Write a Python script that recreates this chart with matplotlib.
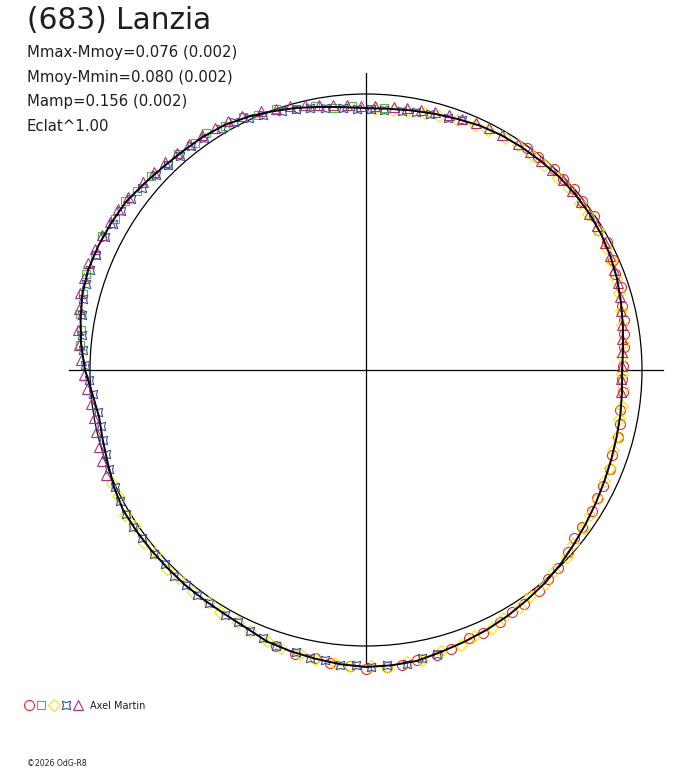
import numpy as np
import matplotlib
matplotlib.use("Agg")
import matplotlib.pyplot as plt

# courbe de lumiere en polaire: angle (deg) et flux relatif (rayon, 1 = moyenne)
fit_ang = list(range(0, 360, 5))
fit_r = [0.928, 0.935, 0.945, 0.956, 0.968, 0.977, 0.984, 0.988, 0.990, 0.990,
         0.987, 0.985, 0.982, 0.977, 0.968, 0.961, 0.955, 0.950, 0.949, 0.956,
         0.968, 0.983, 0.997, 1.012, 1.025, 1.031, 1.034, 1.040, 1.050, 1.062,
         1.066, 1.069, 1.070, 1.064, 1.050, 1.036, 1.018, 0.995, 0.982, 0.987,
         0.995, 1.007, 1.016, 1.016, 1.016, 1.016, 1.018, 1.019, 1.022, 1.030,
         1.047, 1.055, 1.062, 1.070, 1.076, 1.074, 1.070, 1.057, 1.047, 1.038,
         1.028, 1.017, 1.008, 0.996, 0.983, 0.972, 0.962, 0.953, 0.946, 0.940,
         0.936, 0.931]

red_ang = [54, 51, 47, 44, 41, 38, 34, 31, 28, 24, 21, 18, 14, 11, 8, 5, 1, -2, -5, -9,
           -12, -15, -19, -22, -26, -29, -32, -36, -39, -42, -46, -49, -52, -56, -59,
           -62, -66, -69, -73, -76, -80, -83, -86, -90, -93, -97, -100, -104, -108]
red_r = [0.995, 0.991, 0.997, 0.994, 0.998, 0.993, 0.995, 0.982, 0.988, 0.979, 0.966,
         0.970, 0.957, 0.951, 0.944, 0.938, 0.931, 0.927, 0.935, 0.932, 0.942, 0.944,
         0.943, 0.953, 0.956, 0.955, 0.964, 0.969, 0.970, 0.983, 0.999, 1.004, 1.017,
         1.022, 1.024, 1.036, 1.043, 1.042, 1.058, 1.063, 1.068, 1.077, 1.079, 1.082,
         1.075, 1.070, 1.059, 1.062, 1.053]

yel_ang = [88, 84, 81, 77, 74, 70, 66, 63, 59, 56, 52, 49, 45, 42, 38, 35, 31, 27, 24,
           20, 17, 13, 10, 6, 3, -1, -4, -8, -11, -15, -18, -22, -25, -29, -33, -36,
           -40, -43, -47, -50, -54, -57, -61, -64, -68, -71, -75, -79, -82, -86, -89,
           -93, -96, -100, -103, -107, -110, -114, -117, -121, -124, -128, -132, -135,
           -139, -142, -146, -149, -153, -156]
yel_r = [0.945, 0.946, 0.950, 0.955, 0.958, 0.963, 0.972, 0.976, 0.980, 0.982, 0.984,
         0.985, 0.986, 0.988, 0.985, 0.984, 0.982, 0.976, 0.972, 0.965, 0.957, 0.950,
         0.942, 0.935, 0.928, 0.926, 0.932, 0.937, 0.935, 0.943, 0.941, 0.952, 0.950,
         0.963, 0.966, 0.977, 0.981, 0.994, 0.998, 1.011, 1.013, 1.024, 1.027, 1.039,
         1.041, 1.052, 1.055, 1.071, 1.069, 1.078, 1.073, 1.075, 1.066, 1.065, 1.055,
         1.054, 1.044, 1.036, 1.025, 1.024, 1.016, 1.021, 1.014, 1.019, 1.013, 1.019,
         1.013, 1.018, 1.008, 1.009]

blu_ang = [69, 72, 76, 79, 82, 86, 89, 92, 95, 99, 102, 105, 108, 112, 115, 118, 121,
           125, 128, 131, 134, 137, 141, 144, 147, 150, 153, 157, 160, 163, 166, 169,
           173, 176, 179, 182, 185, 189, 192, 195, 198, 201, 205, 208, 211, 214, 217,
           221, 224, 227, 230, 233, 236, 240, 243, 246, 249, 252, 256, 259, 262, 265,
           268, 271, 274, 278, 281, 284]
blu_r = [0.970, 0.961, 0.955, 0.951, 0.949, 0.946, 0.944, 0.948, 0.952, 0.961, 0.970,
         0.978, 0.987, 0.998, 1.006, 1.016, 1.020, 1.026, 1.028, 1.029, 1.033, 1.038,
         1.046, 1.053, 1.057, 1.060, 1.062, 1.063, 1.064, 1.061, 1.056, 1.049, 1.037,
         1.029, 1.018, 1.006, 0.993, 0.982, 0.982, 0.985, 0.990, 0.996, 1.005, 1.010,
         1.014, 1.018, 1.014, 1.018, 1.013, 1.019, 1.016, 1.020, 1.017, 1.024, 1.024,
         1.036, 1.041, 1.053, 1.054, 1.063, 1.062, 1.073, 1.071, 1.078, 1.072, 1.074,
         1.064, 1.062]

grn_ang = [86, 89, 93, 97, 101, 105, 109, 113, 116, 120, 124, 127, 131, 134, 138, 142,
           145, 149, 153, 157, 161, 165, 169, 172, 175]
grn_r = [0.952, 0.946, 0.958, 0.957, 0.975, 0.980, 0.999, 1.003, 1.019, 1.022, 1.034,
         1.029, 1.039, 1.035, 1.050, 1.052, 1.066, 1.062, 1.072, 1.066, 1.073, 1.061,
         1.057, 1.041, 1.039]

mag_ang = [-5, -2, 1, 4, 7, 10, 13, 16, 19, 22, 25, 28, 32, 35, 38, 41, 44, 47, 50, 53,
           56, 60, 63, 66, 69, 72, 75, 78, 81, 84, 88, 91, 94, 97, 100, 103, 106, 109,
           112, 116, 119, 122, 125, 128, 131, 134, 137, 140, 144, 147, 150, 153, 156,
           159, 162, 165, 168, 172, 175, 178, 181, 184, 187, 190, 193, 196, 199, 202]
mag_r = [0.929, 0.926, 0.927, 0.931, 0.936, 0.943, 0.949, 0.957, 0.964, 0.970, 0.975,
         0.980, 0.985, 0.986, 0.988, 0.989, 0.991, 0.990, 0.989, 0.988, 0.987, 0.985,
         0.983, 0.979, 0.974, 0.970, 0.966, 0.963, 0.960, 0.957, 0.956, 0.957, 0.961,
         0.967, 0.975, 0.984, 0.994, 1.002, 1.011, 1.022, 1.030, 1.034, 1.038, 1.040,
         1.042, 1.046, 1.051, 1.057, 1.066, 1.070, 1.073, 1.075, 1.076, 1.077, 1.075,
         1.071, 1.063, 1.052, 1.043, 1.033, 1.022, 1.012, 1.004, 0.999, 1.003, 1.008,
         1.012, 1.015]

titre = "(683) Lanzia"
infos = ["Mmax-Mmoy=0.076 (0.002)", "Mmoy-Mmin=0.080 (0.002)",
         "Mamp=0.156 (0.002)", "Eclat^1.00"]
observateur = "Axel Martin"
copyright_txt = "\u00a92026 OdG-R8"

series = [
    (red_ang, red_r, "o", "#f02828", 7.2),
    (grn_ang, grn_r, "s", "#55b848", 6.0),
    (yel_ang, yel_r, "D", "#f8e400", 5.8),
    (blu_ang, blu_r, (4, 1, 45), "#3850a8", 8.6),
    (mag_ang, mag_r, "^", "#b02c80", 7.4),
]


def xy(ang, r):
    a = np.radians(np.asarray(ang, dtype=float))
    r = np.asarray(r, dtype=float)
    return r * np.cos(a), r * np.sin(a)


W, H = 688, 768
cx, cy, R = 366, 370, 276   # centre et rayon du cercle moyen, en pixels

fig = plt.figure(figsize=(W / 100, H / 100), dpi=100)
ax = fig.add_axes([0, 0, 1, 1])
ax.set_xlim(-cx / R, (W - cx) / R)
ax.set_ylim(-(H - cy) / R, cy / R)
ax.axis("off")

# axes de reference
rmax = max(fit_r)
ax.plot([-rmax, rmax], [0, 0], color="black", lw=0.9)
ax.plot([0, 0], [-rmax, rmax], color="black", lw=0.9)
ax.add_patch(plt.Circle((0, 0), 1.0, fill=False, color="black", lw=0.9))

for ang, r, mk, col, ms in series:
    x, y = xy(ang, r)
    ax.plot(x, y, ls="none", marker=mk, ms=ms, mfc="none", mec=col, mew=0.8)

fx, fy = xy(fit_ang + [fit_ang[0]], fit_r + [fit_r[0]])
ax.plot(fx, fy, color="black", lw=1.4, zorder=5)

# textes
fig.text(27 / W, 1 - 29 / H, titre, fontsize=21.3, color="#1e1e1e",
         ha="left", va="baseline")
for i, t in enumerate(infos):
    fig.text(27 / W, 1 - (57 + 24.7 * i) / H, t, fontsize=10.7, color="#1e1e1e",
             ha="left", va="baseline")

# legende
for i, (ang, r, mk, col, ms) in enumerate(series):
    ax.plot([(29 + 12.3 * i) / W], [1 - 705 / H], transform=fig.transFigure,
            marker=mk, ms=ms, mfc="none", mec=col, mew=0.8, clip_on=False)
fig.text(90 / W, 1 - 709 / H, observateur, fontsize=7, color="#1e1e1e",
         ha="left", va="baseline")
fig.text(27 / W, 1 - 766 / H, copyright_txt, fontsize=5.6, color="#1e1e1e",
         ha="left", va="baseline")

fig.savefig("out.png", dpi=100)
